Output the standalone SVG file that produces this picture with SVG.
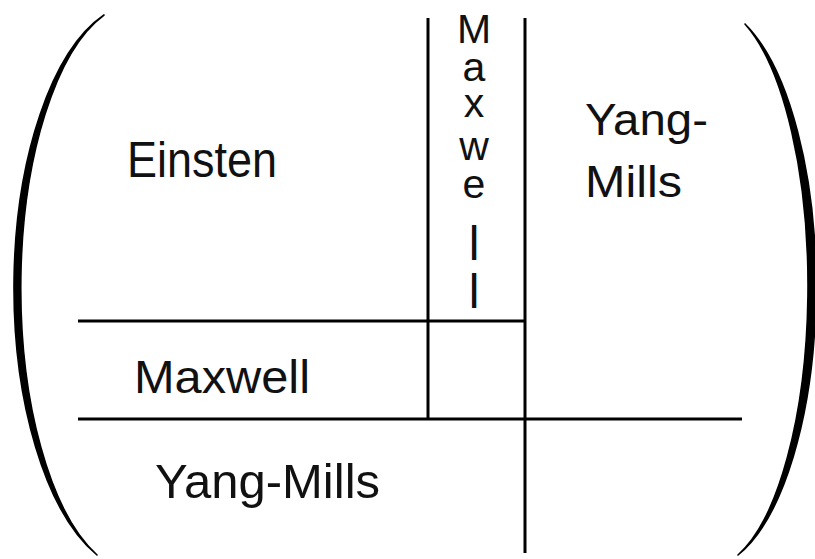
<svg xmlns="http://www.w3.org/2000/svg" width="815" height="559" viewBox="0 0 815 559">
<style>
  .bg { fill: #ffffff; }
  .paren { fill: #000000; stroke: #000000; stroke-width: 1.6; stroke-linejoin: round; }
  .rule { stroke: #000000; stroke-width: 3; fill: none; }
  .lbl { font-family: "Liberation Sans", Arial, sans-serif; fill: #111111; }
  .vl { font-family: "Liberation Sans", Arial, sans-serif; fill: #111111; text-anchor: middle; font-size: 41px; }
</style>
<rect class="bg" x="0" y="0" width="815" height="559"/>
<g id="paren-left">
  <path class="paren" d="M104,15 A127,285 0 0 0 97,555 A117,285 0 0 1 104,15 Z"/>
</g>
<g id="paren-right">
  <path class="paren" d="M745,24 A112,282 0 0 1 738,555 A100,282 0 0 0 745,24 Z"/>
</g>
<g id="connectors">
  <line class="rule" x1="428" y1="18" x2="428" y2="419"/>
  <line class="rule" x1="525" y1="18" x2="525" y2="553"/>
  <line class="rule" x1="78" y1="321" x2="525" y2="321"/>
  <line class="rule" x1="78" y1="419" x2="742" y2="419"/>
</g>
<g id="node-einsten">
  <text class="lbl" x="127" y="177" font-size="50" textLength="150" lengthAdjust="spacingAndGlyphs">Einsten</text>
</g>
<g id="node-maxwell-vertical">
  <text class="vl"><tspan x="474" y="43">M</tspan><tspan x="474" y="81">a</tspan><tspan x="474" y="117">x</tspan><tspan x="474" y="160">w</tspan><tspan x="474" y="198">e</tspan><tspan x="474" y="260" style="font-size:48px">l</tspan><tspan x="474" y="308" style="font-size:48px">l</tspan></text>
</g>
<g id="node-yangmills-right">
  <text class="lbl" x="585" y="135" font-size="45" textLength="123" lengthAdjust="spacingAndGlyphs">Yang-</text>
  <text class="lbl" x="585" y="197" font-size="45" textLength="97" lengthAdjust="spacingAndGlyphs">Mills</text>
</g>
<g id="node-maxwell">
  <text class="lbl" x="134" y="393" font-size="47" textLength="176" lengthAdjust="spacingAndGlyphs">Maxwell</text>
</g>
<g id="node-yangmills-bottom">
  <text class="lbl" x="155" y="498" font-size="48" textLength="225" lengthAdjust="spacingAndGlyphs">Yang-Mills</text>
</g>
</svg>
